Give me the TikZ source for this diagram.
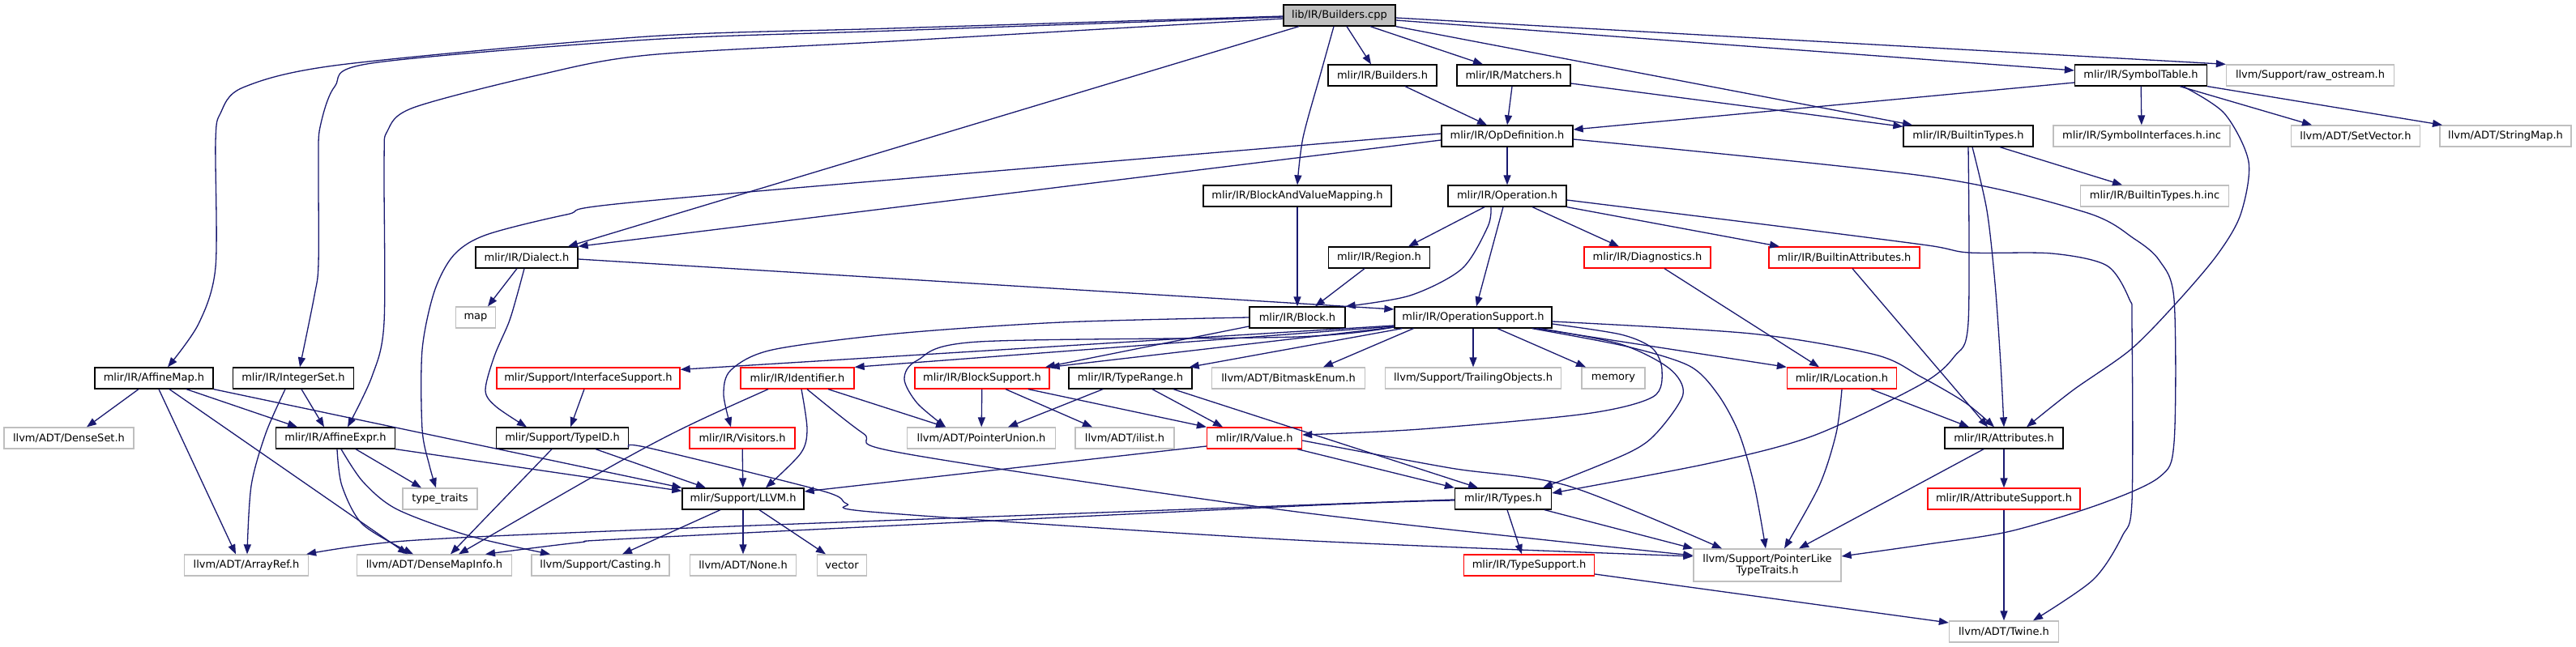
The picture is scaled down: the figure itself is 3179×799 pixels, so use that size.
\documentclass[tikz,border=0pt]{standalone}
\usepackage{fontspec}
\setmainfont{DejaVu Sans}
\usetikzlibrary{arrows.meta}
\definecolor{edgec}{HTML}{191970}
\definecolor{grayc}{HTML}{BFBFBF}
\definecolor{redc}{HTML}{FF0000}
\definecolor{fillc}{HTML}{BFBFBF}
\begin{document}
\begin{tikzpicture}[x=1pt,y=-1pt,
  dep/.style={draw=edgec, line width=1.3pt, -{Triangle[length=12pt,width=9pt]}},
  nbox/.style={rectangle, minimum height=26pt, inner sep=0pt, line width=1.3pt, font=\fontsize{13}{14}\selectfont, text=black},
  nb/.style={nbox, draw=black},
  ng/.style={nbox, draw=grayc},
  nr/.style={nbox, draw=redc}]
\fill[white] (0,0) rectangle (3179,799);
\useasboundingbox (0,0) rectangle (3179,799);
% nodes
\node[nb, fill=fillc, minimum width=138pt] (bc) at (1653,19) {lib/IR/Builders.cpp};
\node[nb, minimum width=134pt] (bh) at (1706,93) {mlir/IR/Builders.h};
\node[nb, minimum width=140pt] (mh) at (1868,93) {mlir/IR/Matchers.h};
\node[nb, minimum width=163pt] (st) at (2642,93) {mlir/IR/SymbolTable.h};
\node[ng, minimum width=207pt] (ro) at (2851,93) {llvm/Support/raw\_ostream.h};
\node[nb, minimum width=162pt] (od) at (1860,168) {mlir/IR/OpDefinition.h};
\node[nb, minimum width=160pt] (bt) at (2429,168) {mlir/IR/BuiltinTypes.h};
\node[ng, minimum width=218pt] (sii) at (2643,168) {mlir/IR/SymbolInterfaces.h.inc};
\node[ng, minimum width=159pt] (sv) at (2907,168) {llvm/ADT/SetVector.h};
\node[ng, minimum width=162pt] (sm) at (3092,168) {llvm/ADT/StringMap.h};
\node[nb, minimum width=232pt] (bvm) at (1601,242) {mlir/IR/BlockAndValueMapping.h};
\node[nb, minimum width=146pt] (op) at (1860,242) {mlir/IR/Operation.h};
\node[ng, minimum width=183pt] (bti) at (2659,242) {mlir/IR/BuiltinTypes.h.inc};
\node[nb, minimum width=126pt] (di) at (650,318) {mlir/IR/Dialect.h};
\node[nb, minimum width=125pt] (rg) at (1702,318) {mlir/IR/Region.h};
\node[nr, minimum width=156pt] (dg) at (2033,318) {mlir/IR/Diagnostics.h};
\node[nr, minimum width=186pt] (ba) at (2276,318) {mlir/IR/BuiltinAttributes.h};
\node[ng, minimum width=49pt] (mp) at (587,392) {map};
\node[nb, minimum width=118pt] (bl) at (1601,392) {mlir/IR/Block.h};
\node[nb, minimum width=194pt] (os) at (1818,392) {mlir/IR/OperationSupport.h};
\node[nb, minimum width=146pt] (am) at (190,467) {mlir/IR/AffineMap.h};
\node[nb, minimum width=149pt] (is) at (362,467) {mlir/IR/IntegerSet.h};
\node[nr, minimum width=226pt] (ifs) at (726,467) {mlir/Support/InterfaceSupport.h};
\node[nr, minimum width=140pt] (id) at (984,467) {mlir/IR/Identifier.h};
\node[nr, minimum width=166pt] (bs) at (1212,467) {mlir/IR/BlockSupport.h};
\node[nb, minimum width=152pt] (tr) at (1395,467) {mlir/IR/TypeRange.h};
\node[ng, minimum width=189pt] (be) at (1590,467) {llvm/ADT/BitmaskEnum.h};
\node[ng, minimum width=217pt] (to) at (1818,467) {llvm/Support/TrailingObjects.h};
\node[ng, minimum width=78pt] (me) at (1991,467) {memory};
\node[nr, minimum width=135pt] (lo) at (2273,467) {mlir/IR/Location.h};
\node[ng, minimum width=160pt] (ds) at (85,541) {llvm/ADT/DenseSet.h};
\node[nb, minimum width=147pt] (ae) at (414,541) {mlir/IR/AffineExpr.h};
\node[nb, minimum width=163pt] (tid) at (694,541) {mlir/Support/TypeID.h};
\node[nr, minimum width=130pt] (vi) at (916,541) {mlir/IR/Visitors.h};
\node[ng, minimum width=183pt] (pu) at (1211,541) {llvm/ADT/PointerUnion.h};
\node[ng, minimum width=122pt] (il) at (1388,541) {llvm/ADT/ilist.h};
\node[nr, minimum width=117pt] (va) at (1548,541) {mlir/IR/Value.h};
\node[nb, minimum width=146pt] (at) at (2473,541) {mlir/IR/Attributes.h};
\node[ng, minimum width=92pt] (tt) at (543,616) {type\_traits};
\node[nb, minimum width=150pt] (ll) at (917,616) {mlir/Support/LLVM.h};
\node[nb, minimum width=119pt] (ty) at (1855,616) {mlir/IR/Types.h};
\node[nr, minimum width=188pt] (as) at (2473,616) {mlir/IR/AttributeSupport.h};
\node[ng, minimum width=153pt] (ar) at (304,698) {llvm/ADT/ArrayRef.h};
\node[ng, minimum width=191pt] (dmi) at (536,698) {llvm/ADT/DenseMapInfo.h};
\node[ng, minimum width=170pt] (ca) at (741,698) {llvm/Support/Casting.h};
\node[ng, minimum width=131pt] (no) at (917,698) {llvm/ADT/None.h};
\node[ng, minimum width=61pt] (ve) at (1039,698) {vector};
\node[nr, minimum width=161pt] (ts) at (1887,698) {mlir/IR/TypeSupport.h};
\node[ng, minimum width=182pt, minimum height=40pt, align=center] (pl) at (2181,698) {llvm/Support/PointerLike\\TypeTraits.h};
\node[ng, minimum width=135pt] (tw) at (2473,780) {llvm/ADT/Twine.h};
% edges from Builders.cpp
\draw[dep] plot[smooth] coordinates {([yshift=-1pt]bc.west) (1100,35) (800,45) (420,80) (300,108) (272,140) (266,175) (266,330) (245,400) ([xshift=17pt]am.north)};
\draw[dep] plot[smooth] coordinates {([yshift=-2pt]bc.west) (1100,38) (800,49) (459,78) (413,107) (395,157) (393,200) (393,325) (388,365) ([xshift=8pt]is.north)};
\draw[dep] plot[smooth] coordinates {([yshift=-4pt]bc.west) (1100,51) (800,68) (663,93) (510,133) (478,162) (474,200) (474,398) (459,465) ([xshift=15pt]ae.north)};
\draw[dep] ([xshift=-50pt]bc.south) -- ([xshift=51pt]di.north);
\draw[dep] plot[smooth] coordinates {([xshift=-7pt]bc.south) (1630,90) (1608,170) (bvm.north)};
\draw[dep] ([xshift=9pt]bc.south) -- ([xshift=-14pt]bh.north);
\draw[dep] ([xshift=38pt]bc.south) -- ([xshift=-38pt]mh.north);
\draw[dep] (bc.south east) -- ([xshift=-69pt]bt.north);
\draw[dep] ([yshift=-6pt]bc.east) -- ([yshift=6pt]st.west);
\draw[dep] ([yshift=-3pt]bc.east) -- (ro.north west);
% second level
\draw[dep] ([xshift=28pt]bh.south) -- ([xshift=-25pt]od.north);
\draw[dep] ([xshift=-2pt]mh.south) -- (od.north);
\draw[dep] ([yshift=-10pt]mh.east) -- ([yshift=-2pt]bt.north west);
\draw[dep] ([yshift=-9pt]st.west) -- ([yshift=8pt]od.east);
\draw[dep] (st) -- (sii);
\draw[dep] ([xshift=48pt]st.south) -- ([xshift=-54pt]sv.north);
\draw[dep] (st.south east) -- ([xshift=-78pt]sm.north);
\draw[dep] plot[smooth] coordinates {([xshift=52pt]st.south) (2745,140) (2775,200) (2765,265) (2736,315) (2685,375) (2629,432) (2558,482) ([xshift=28pt]at.north)};
% OpDefinition
\draw[dep] ([yshift=-5pt]od.west) -- (di.north east);
\draw[dep] plot[smooth] coordinates {([yshift=3pt]od.west) (1600,180) (800,248) (699,265) (600,290) (560,315) (536,360) (521,432) (521,530) (530,575) ([xshift=-5pt]tt.north)};
\draw[dep] (od) -- (op);
\draw[dep] plot[smooth] coordinates {([yshift=-4pt]od.east) (2380,218) (2573,262) (2634,295) (2665,322) (2683,370) (2683,546) (2665,589) (2593,622) (2481,656) (2379,672) ([yshift=11pt]pl.east)};
% Operation
\draw[dep] ([xshift=-28pt]op.south) -- ([xshift=36pt]rg.north);
\draw[dep] plot[smooth] coordinates {([xshift=-20pt]op.south) (1836,280) (1804,332) (1740,365) (bl.north east)};
\draw[dep] ([xshift=-5pt]op.south) -- ([xshift=4pt]os.north);
\draw[dep] ([xshift=31pt]op.south) -- ([xshift=-35pt]dg.north);
\draw[dep] (op.south east) -- ([xshift=-80pt]ba.north);
\draw[dep] plot[smooth] coordinates {([yshift=-5pt]op.east) (2200,280) (2379,303) (2430,312) (2532,313) (2600,328) (2628,370) (2631,400) (2631,619) (2619,662) (2583,716) ([xshift=36pt]tw.north)};
\draw[dep] (bvm) -- (bl);
\draw[dep] ([xshift=-18pt]rg.south) -- ([xshift=22pt]bl.north);
% Dialect
\draw[dep] ([xshift=-12pt]di.south) -- ([xshift=15pt]mp.north);
\draw[dep] plot[smooth] coordinates {([xshift=-3pt]di.south) (638,365) (628,398) (610,440) (599,482) (612,502) ([xshift=-44pt]tid.north)};
\draw[dep] ([yshift=-2pt]di.east) -- ([yshift=10pt]os.west);
% Block
\draw[dep] plot[smooth] coordinates {(bl.west) (1310,398) (1106,412) (953,432) (902,457) (893,487) ([xshift=-14pt]vi.north)};
\draw[dep] ([yshift=-11pt]bl.west) -- ([xshift=78pt]bs.north);
% OperationSupport
\draw[dep] ([yshift=-10pt]os.west) -- ([yshift=-3pt]ifs.north east);
\draw[dep] ([yshift=-11pt]os.west) -- (id.north east);
\draw[dep] ([yshift=-12pt]os.west) -- (bs.north east);
\draw[dep] ([xshift=10pt]os.south west) -- ([xshift=-4pt]tr.north east);
\draw[dep] ([xshift=24pt]os.south west) -- ([xshift=43pt]be.north);
\draw[dep] (os) -- (to);
\draw[dep] ([xshift=30pt]os.south) -- ([xshift=-34pt]me.north);
\draw[dep] ([xshift=78pt]os.south) -- (lo.north west);
\draw[dep] plot[smooth] coordinates {([yshift=-5pt]os.east) (2161,412) (2314,438) (2370,465) (2425,497) ([xshift=-12pt]at.north)};
\draw[dep] plot[smooth] coordinates {([yshift=-12pt]os.west) (1600,416) (1208,422) (1132,445) (1116,468) (1132,498) ([xshift=-44pt]pu.north)};
\draw[dep] plot[smooth] coordinates {([yshift=-8pt]os.east) (2000,413) (2039,430) (2051,457) (2040,490) (1957,511) (1753,530) ([yshift=4pt]va.east)};
\draw[dep] plot[smooth] coordinates {([xshift=-15pt]os.south east) (2000,425) (2060,455) (2077,487) (2044,535) (2008,560) ([xshift=49pt]ty.north)};
\draw[dep] plot[smooth] coordinates {([xshift=-25pt]os.south east) (2008,428) (2085,452) (2120,487) (2146,535) (2165,600) ([xshift=-2pt]pl.north)};
% Diagnostics, BuiltinAttributes, Location
\draw[dep] ([xshift=21pt]dg.south) -- ([xshift=-28pt]lo.north);
\draw[dep] ([xshift=10pt]ba.south) -- ([xshift=-20pt]at.north);
\draw[dep] ([xshift=36pt]lo.south) -- ([xshift=-43pt]at.north);
\draw[dep] plot[smooth] coordinates {(lo.south) (2266,535) (2245,600) ([xshift=21pt]pl.north)};
% BuiltinTypes
\draw[dep] ([xshift=39pt]bt.south) -- ([xshift=-40pt]bti.north);
\draw[dep] plot[smooth] coordinates {(bt.south) (2429,398) (2412,440) (2370,475) (2238,538) (2110,572) ([yshift=7pt]ty.east)};
\draw[dep] plot[smooth] coordinates {([xshift=5pt]bt.south) (2452,260) (2462,350) (2469,450) (at.north)};
% Attributes
\draw[dep] (at) -- (as);
\draw[dep] ([xshift=-25pt]at.south) -- ([xshift=39pt]pl.north);
\draw[dep] (as) -- (tw);
\draw[dep] ([yshift=-11pt]ts.east) -- ([yshift=11pt]tw.west);
% Types
\draw[dep] ([xshift=5pt]ty.south) -- ([xshift=-9pt]ts.north);
\draw[dep] ([xshift=51pt]ty.south) -- (pl.north west);
\draw[dep] plot[smooth] coordinates {([yshift=-1pt]ty.west) (1600,624) (800,654) (500,668) ([xshift=-3pt]ar.north east)};
\draw[dep] plot[smooth] coordinates {([yshift=-2pt]ty.west) (1600,625) (800,664) (714,670) ([xshift=63pt]dmi.north)};
% Value
\draw[dep] ([yshift=-10pt]va.west) -- ([yshift=9pt]ll.east);
\draw[dep] ([xshift=-6pt]va.south east) -- (ty.north west);
\draw[dep] plot[smooth] coordinates {([yshift=-3pt]va.east) (1790,578) (1935,600) ([xshift=-56pt]pl.north)};
% TypeRange
\draw[dep] ([xshift=-34pt]tr.south) -- ([xshift=33pt]pu.north);
\draw[dep] ([xshift=27pt]tr.south) -- ([xshift=-39pt]va.north);
\draw[dep] ([xshift=53pt]tr.south) -- ([xshift=-31pt]ty.north);
% BlockSupport
\draw[dep] (bs) -- (pu);
\draw[dep] ([xshift=29pt]bs.south) -- ([xshift=-40pt]il.north);
\draw[dep] ([xshift=57pt]bs.south) -- (va.north west);
% Identifier
\draw[dep] ([xshift=38pt]id.south) -- ([xshift=-44pt]pu.north);
\draw[dep] plot[smooth] coordinates {([xshift=5pt]id.south) (996,530) (988,560) ([xshift=28pt]ll.north)};
\draw[dep] ([xshift=-36pt]id.south) .. controls (815,540) .. ([xshift=30pt]dmi.north);
\draw[dep] plot[smooth] coordinates {([xshift=12pt]id.south) (1065,535) (1116,560) (1600,632) ([yshift=12pt]pl.west)};
% TypeID
\draw[dep] plot[smooth] coordinates {([yshift=-11pt]tid.east) (800,553) (1014,606) (1045,622) (1086,633) (1600,667) ([yshift=11pt]pl.west)};
\draw[dep] ([xshift=41pt]tid.south) -- ([xshift=-46pt]ll.north);
\draw[dep] ([xshift=-13pt]tid.south) -- ([xshift=20pt]dmi.north);
\draw[dep] ([xshift=-5pt]ifs.south) -- ([xshift=10pt]tid.north);
\draw[dep] (vi) -- (ll);
% LLVM
\draw[dep] ([xshift=-28pt]ll.south) -- ([xshift=27pt]ca.north);
\draw[dep] (ll) -- (no);
\draw[dep] ([xshift=20pt]ll.south) -- ([xshift=-20pt]ve.north);
% AffineMap
\draw[dep] ([xshift=-19pt]am.south) -- ([xshift=22pt]ds.north);
\draw[dep] ([xshift=6pt]am.south) -- ([xshift=-13pt]ar.north);
\draw[dep] ([xshift=19pt]am.south) -- ([xshift=-33pt]dmi.north);
\draw[dep] ([xshift=40pt]am.south) -- ([xshift=-47pt]ae.north);
\draw[dep] (am.south east) -- (ll.north west);
% AffineExpr
\draw[dep] (ae.south east) -- ([yshift=-4pt]ll.north west);
\draw[dep] ([xshift=25pt]ae.south) -- ([xshift=-23pt]tt.north);
\draw[dep] plot[smooth] coordinates {([xshift=2pt]ae.south) (422,600) (448,648) ([xshift=-26pt]dmi.north)};
\draw[dep] plot[smooth] coordinates {([xshift=7pt]ae.south) (448,595) (490,629) (580,662) ([xshift=-62pt]ca.north)};
% IntegerSet
\draw[dep] ([xshift=10pt]is.south) -- ([xshift=-14pt]ae.north);
\draw[dep] plot[smooth] coordinates {([xshift=-10pt]is.south) (328,535) (310,600) ([xshift=1pt]ar.north)};
\end{tikzpicture}
\end{document}
